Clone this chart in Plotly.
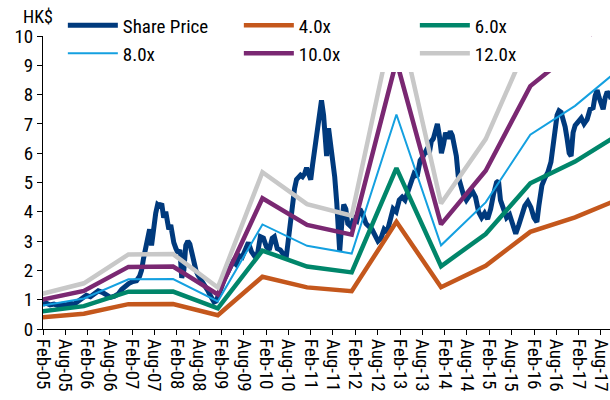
import pandas as pd
import plotly.graph_objects as go

# ---------------- data ----------------
price_dates = [
    "2005-02-01", "2005-02-28", "2005-03-31", "2005-05-02", "2005-06-05", "2005-07-08", "2005-08-10",
    "2005-09-12", "2005-10-15", "2005-11-17", "2005-12-20", "2006-01-22", "2006-02-24", "2006-03-27",
    "2006-04-29", "2006-06-01", "2006-07-04", "2006-08-07", "2006-09-09", "2006-10-11", "2006-11-06",
    "2006-12-01", "2007-01-03", "2007-02-05", "2007-03-08", "2007-04-02", "2007-04-18", "2007-05-04",
    "2007-05-21", "2007-06-07", "2007-06-23", "2007-07-09", "2007-07-26", "2007-08-12", "2007-08-28",
    "2007-09-14", "2007-09-30", "2007-10-16", "2007-11-02", "2007-11-10", "2007-11-27", "2007-12-13",
    "2007-12-21", "2008-01-07", "2008-01-24", "2008-02-10", "2008-02-26", "2008-03-12", "2008-03-29",
    "2008-04-14", "2008-05-01", "2008-05-17", "2008-06-03", "2008-06-19", "2008-07-06", "2008-07-22",
    "2008-08-08", "2008-08-25", "2008-09-10", "2008-09-27", "2008-10-13", "2008-10-30", "2008-11-15",
    "2008-12-02", "2008-12-18", "2009-01-04", "2009-01-29", "2009-02-23", "2009-03-17", "2009-04-12",
    "2009-05-06", "2009-05-31", "2009-06-25", "2009-07-19", "2009-08-13", "2009-09-08", "2009-10-02",
    "2009-10-27", "2009-11-21", "2009-12-15", "2010-01-09", "2010-02-03", "2010-02-26", "2010-03-22",
    "2010-04-08", "2010-05-02", "2010-05-27", "2010-06-21", "2010-07-16", "2010-08-02", "2010-08-18",
    "2010-09-04", "2010-09-21", "2010-10-07", "2010-10-23", "2010-11-09", "2010-11-25", "2010-12-12",
    "2010-12-28", "2011-01-14", "2011-01-31", "2011-02-15", "2011-03-02", "2011-03-19", "2011-04-05",
    "2011-04-21", "2011-04-29", "2011-05-16", "2011-06-02", "2011-06-10", "2011-06-26", "2011-07-12",
    "2011-07-29", "2011-08-15", "2011-09-01", "2011-09-17", "2011-09-25", "2011-10-12", "2011-10-28",
    "2011-11-14", "2011-11-30", "2011-12-25", "2012-01-19", "2012-02-13", "2012-03-08", "2012-04-02",
    "2012-04-27", "2012-05-21", "2012-06-15", "2012-07-09", "2012-08-03", "2012-08-28", "2012-09-22",
    "2012-10-16", "2012-11-10", "2012-12-05", "2012-12-30", "2013-01-24", "2013-02-17", "2013-03-12",
    "2013-04-06", "2013-05-01", "2013-05-25", "2013-06-19", "2013-07-14", "2013-08-08", "2013-09-02",
    "2013-09-27", "2013-10-13", "2013-10-30", "2013-11-16", "2013-12-02", "2013-12-18", "2014-01-04",
    "2014-01-21", "2014-02-07", "2014-03-01", "2014-03-17", "2014-04-03", "2014-04-19", "2014-05-06",
    "2014-05-22", "2014-06-08", "2014-07-02", "2014-07-27", "2014-08-21", "2014-09-15", "2014-10-10",
    "2014-11-04", "2014-11-29", "2014-12-23", "2015-01-17", "2015-02-11", "2015-03-06", "2015-03-31",
    "2015-04-16", "2015-05-02", "2015-05-27", "2015-06-21", "2015-07-16", "2015-08-10", "2015-09-04",
    "2015-09-29", "2015-10-23", "2015-11-17", "2015-12-12", "2016-01-06", "2016-01-31", "2016-02-24",
    "2016-03-11", "2016-04-05", "2016-04-29", "2016-05-24", "2016-06-18", "2016-07-04", "2016-07-21",
    "2016-08-07", "2016-08-23", "2016-09-09", "2016-09-25", "2016-10-12", "2016-10-28", "2016-11-14",
    "2016-11-30", "2016-12-16", "2017-01-02", "2017-01-27", "2017-02-21", "2017-03-16", "2017-04-10",
    "2017-05-04", "2017-05-29", "2017-06-14", "2017-07-01", "2017-07-17", "2017-08-03", "2017-08-19",
    "2017-09-05", "2017-09-21", "2017-10-08", "2017-10-24",
]
share_price = [
    0.85, 0.88, 0.82, 0.85, 0.80, 0.84, 0.82,
    0.88, 0.85, 0.95, 1.08, 1.15, 1.10, 1.22,
    1.30, 1.25, 1.18, 1.08, 1.12, 1.20, 1.35,
    1.45, 1.55, 1.62, 1.65, 1.80, 2.00, 2.40,
    2.80, 3.20, 3.40, 2.85, 3.60, 3.95, 4.25,
    4.20, 4.28, 3.80, 4.00, 3.70, 3.40, 3.55,
    3.30, 2.95, 2.75, 2.60, 2.70, 1.75, 2.00,
    2.85, 3.00, 2.90, 2.60, 2.25, 2.00, 1.85,
    1.75, 1.65, 1.55, 1.45, 1.30, 1.15, 1.05,
    0.92, 0.95, 1.10, 1.40, 1.70, 1.90, 2.10,
    2.30, 2.20, 2.50, 2.45, 2.75, 2.95, 2.65,
    2.50, 2.55, 3.15, 3.10, 2.80, 2.70, 3.10,
    3.15, 2.75, 2.70, 2.55, 2.50, 3.10, 3.80,
    4.40, 4.80, 5.10, 5.15, 5.25, 5.20, 5.30,
    5.50, 5.35, 5.10, 5.60, 6.10, 6.70, 7.20,
    7.75, 7.80, 7.30, 6.20, 5.90, 6.85, 6.40,
    5.80, 5.20, 4.30, 3.50, 2.65, 3.60, 4.25,
    4.10, 3.60, 3.50, 3.80, 3.70, 4.10, 3.90,
    3.60, 3.50, 3.40, 3.20, 3.00, 3.10, 3.40,
    3.30, 3.80, 4.10, 4.00, 4.40, 4.50, 4.40,
    4.70, 5.00, 5.30, 5.20, 5.75, 5.90, 6.10,
    6.00, 6.40, 6.50, 6.80, 7.00, 6.60, 6.00,
    6.30, 6.70, 6.50, 6.75, 6.60, 6.20, 5.90,
    5.20, 4.90, 4.60, 4.40, 4.55, 4.70, 4.50,
    4.00, 3.80, 3.95, 3.75, 4.10, 4.60, 5.00,
    5.05, 4.40, 4.10, 3.80, 3.90, 3.50, 3.25,
    3.55, 3.90, 4.20, 4.35, 4.15, 3.80, 3.65,
    4.20, 4.90, 5.15, 5.35, 5.70, 6.20, 6.80,
    7.30, 7.45, 7.40, 7.15, 6.90, 6.50, 6.00,
    5.90, 6.70, 6.95, 7.10, 7.20, 7.00, 7.15,
    7.50, 7.55, 7.95, 8.15, 7.90, 7.60, 7.50,
    7.90, 8.10, 8.00, 7.85,
]

eps_dates = ["2005-01-01", "2006-01-01", "2007-01-01", "2008-01-01", "2009-01-01", "2010-01-01",
             "2011-01-01", "2012-01-01", "2013-01-01", "2014-01-01", "2015-01-01", "2016-01-01",
             "2017-01-01", "2018-01-01"]
eps = [0.098, 0.130, 0.212, 0.213, 0.118, 0.446, 0.355, 0.322, 0.915, 0.357, 0.540, 0.829, 0.952, 1.110]

multiples = [4.0, 6.0, 8.0, 10.0, 12.0]
multiple_labels = ["4.0x", "6.0x", "8.0x", "10.0x", "12.0x"]

# ---------------- styling ----------------
FONT = "Liberation Sans Narrow, Arial Narrow, Roboto Condensed, Liberation Sans, Arial, sans-serif"
price_color = "#003A7D"
band_colors = ["#C4571C", "#00866A", "#14A0E0", "#7A2872", "#C8C8C8"]
band_widths = [4.5, 4.5, 2, 4.5, 4.5]
legend_of = ["legend", "legend", "legend2", "legend2", "legend2"]

fig = go.Figure()
fig.add_trace(go.Scatter(
    x=pd.to_datetime(price_dates), y=share_price, mode="lines", name="Share Price",
    line=dict(color=price_color, width=5), legend="legend",
))
for i, (m, lab) in enumerate(zip(multiples, multiple_labels)):
    fig.add_trace(go.Scatter(
        x=pd.to_datetime(eps_dates), y=[m * e for e in eps], mode="lines", name=lab,
        line=dict(color=band_colors[i], width=band_widths[i]),
        legend=legend_of[i],
    ))

legend_common = dict(
    orientation="h", xanchor="left", yanchor="middle", bgcolor="white",
    font=dict(family=FONT, size=19, color="#000000"),
    entrywidth=111, entrywidthmode="pixels", itemwidth=50, tracegroupgap=0,
)

fig.update_layout(
    width=610, height=400,
    margin=dict(l=43, r=0, t=36, b=71, autoexpand=False),
    paper_bgcolor="white", plot_bgcolor="white",
    font=dict(family=FONT, size=16, color="#000000"),
    showlegend=True,
    legend=dict(x=0.035, y=1.036, **legend_common),
    legend2=dict(x=0.035, y=0.941, **legend_common),
    xaxis=dict(
        type="date", range=["2005-02-01", "2017-10-14"],
        tick0="2005-02-01", dtick="M6", tickformat="%b-%y", tickangle=90,
        showgrid=False, zeroline=False, showline=True, linecolor="#000000", linewidth=1,
        ticks="outside", ticklen=5, tickcolor="#000000", ticklabeloverflow="allow",
        tickfont=dict(family=FONT, size=19, color="#000000"),
    ),
    yaxis=dict(
        range=[0, 10], dtick=1, showgrid=False, zeroline=False,
        showline=True, linecolor="#000000", linewidth=1,
        ticks="outside", ticklen=5, tickcolor="#000000",
        tickfont=dict(family=FONT, size=19, color="#000000"),
    ),
    annotations=[dict(
        text="HK$", xref="paper", yref="paper", x=-0.038, y=1.066,
        xanchor="left", yanchor="middle", showarrow=False,
        font=dict(family=FONT, size=18, color="#000000"),
    )],
)

fig.write_html("out.html", config={"displayModeBar": False},
               post_script="document.body.style.margin='0px';")
